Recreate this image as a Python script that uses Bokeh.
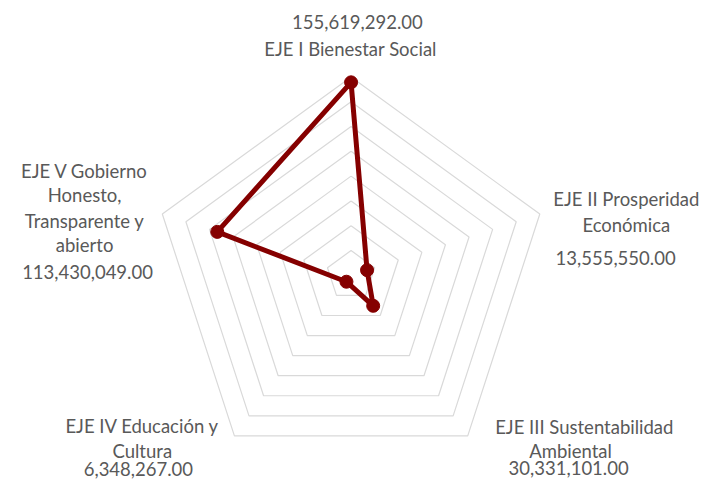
import numpy as np
from bokeh.plotting import figure
from bokeh.models import Range1d, ColumnDataSource
from bokeh.embed import file_html
from bokeh.resources import INLINE
from bokeh.core.properties import value

# ---- data ----
categories = ["EJE I Bienestar Social", "EJE II Prosperidad Económica",
              "EJE III Sustentabilidad Ambiental", "EJE IV Educación y Cultura",
              "EJE V Gobierno Honesto, Transparente y abierto"]
values = [155619292.00, 13555550.00, 30331101.00, 6348267.00, 113430049.00]
value_labels = ["155,619,292.00", "13,555,550.00", "30,331,101.00",
                "6,348,267.00", "113,430,049.00"]
grid_max = 160000000
grid_step = 20000000

# ---- layout ----
W, H = 707, 481
SX, SY = W / 723.0, H / 497.0
S = (SX + SY) / 2
CX, CY = 358.5 * SX, 284.0 * SY     # radar centre inside the figure, px
R_PX = 204.0 * S                    # radius of outer ring, px
K = R_PX / grid_max                 # px per unit

p = figure(width=W, height=H, output_backend="svg", toolbar_location=None,
           x_range=Range1d(-CX / K, (W - CX) / K),
           y_range=Range1d(-(H - CY) / K, CY / K),
           min_border=0, outline_line_color=None)
p.axis.visible = False
p.grid.visible = False
p.background_fill_color = "white"
p.border_fill_color = "white"

n = len(categories)
ang = np.deg2rad(90 - 72 * np.arange(n))

# grid rings
xs, ys = [], []
for r in np.arange(grid_step, grid_max + 1, grid_step):
    xs.append(list(np.r_[r * np.cos(ang), r * np.cos(ang[0])]))
    ys.append(list(np.r_[r * np.sin(ang), r * np.sin(ang[0])]))
p.multi_line(xs, ys, line_color="#d9d9d9", line_width=1.2)

# series
v = np.array(values)
px_ = list(np.r_[v * np.cos(ang), v[0] * np.cos(ang[0])])
py_ = list(np.r_[v * np.sin(ang), v[0] * np.sin(ang[0])])
red = "#850000"
p.line(px_, py_, line_color=red, line_width=5, line_join="round")
p.scatter(list(v * np.cos(ang)), list(v * np.sin(ang)), size=13,
          fill_color=red, line_color=red)

# labels (reference screen positions, scaled into the figure)
def at(sx, sy):
    return ((sx * SX - CX) / K, (CY - sy * SY) / K)

label_lines = [
    (value_labels[0], 365, 22), ("EJE I Bienestar Social", 358, 50),
    ("EJE II Prosperidad", 640, 205), ("Económica", 640, 232), (value_labels[1], 629, 266),
    ("EJE III Sustentabilidad", 597, 441), ("Ambiental", 583, 466), (value_labels[2], 581, 483),
    ("EJE IV Educación y", 145, 440), ("Cultura", 145, 466), (value_labels[3], 141, 484),
    ("EJE V Gobierno", 86, 176), ("Honesto,", 86, 201), ("Transparente y", 86, 228),
    ("abierto", 86, 253), (value_labels[4], 89, 281),
]
tx, ty, tt = [], [], []
for t, sx, sy in label_lines:
    x, y = at(sx, sy)
    tx.append(x); ty.append(y); tt.append(t)
src = ColumnDataSource(dict(x=tx, y=ty, text=tt))
p.text("x", "y", text="text", source=src, text_font=value("Lato"),
       text_font_size="18.5px", text_color="#595959",
       text_align="center", text_baseline="middle")

open("out.html", "w").write(file_html(p, INLINE))
